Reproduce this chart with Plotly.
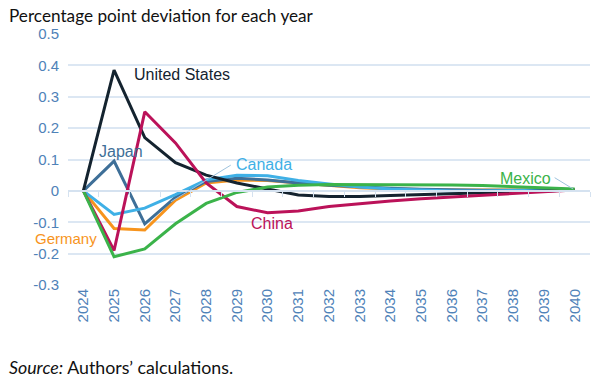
import plotly.graph_objects as go

years = [str(y) for y in range(2024, 2041)]
y_ticks = [0.5, 0.4, 0.3, 0.2, 0.1, 0, -0.1, -0.2, -0.3]
y_tick_labels = ["0.5", "0.4", "0.3", "0.2", "0.1", "0", "-0.1", "-0.2", "-0.3"]

united_states = [0, 0.385, 0.17, 0.09, 0.05, 0.025, 0.006, -0.013, -0.018, -0.018, -0.015, -0.012, -0.008, -0.005, -0.002, 0.0, 0.003]
japan = [0, 0.095, -0.105, -0.02, 0.03, 0.04, 0.035, 0.025, 0.018, 0.012, 0.008, 0.005, 0.003, 0.002, 0.002, 0.002, 0.003]
china = [0, -0.19, 0.252, 0.153, 0.025, -0.05, -0.07, -0.064, -0.05, -0.04, -0.032, -0.025, -0.019, -0.013, -0.007, -0.002, 0.003]
canada = [0, -0.075, -0.055, -0.012, 0.035, 0.05, 0.048, 0.033, 0.022, 0.012, 0.006, 0.002, 0.0, 0.0, 0.001, 0.002, 0.003]
germany = [0, -0.12, -0.125, -0.03, 0.025, 0.035, 0.033, 0.025, 0.016, 0.01, 0.006, 0.004, 0.003, 0.003, 0.003, 0.003, 0.003]
mexico = [0, -0.21, -0.185, -0.105, -0.04, -0.005, 0.012, 0.018, 0.02, 0.02, 0.02, 0.02, 0.019, 0.017, 0.014, 0.01, 0.006]

series = [
    ("Germany", germany, "#f7941d"),
    ("Japan", japan, "#3e6f98"),
    ("Canada", canada, "#3fb0e6"),
    ("United States", united_states, "#14232f"),
    ("China", china, "#bb1259"),
    ("Mexico", mexico, "#3bb34a"),
]

fig = go.Figure()
for name, vals, col in series:
    fig.add_trace(go.Scatter(x=years, y=vals, mode="lines", name=name,
                             line=dict(color=col, width=3)))

tick_font = dict(family="Liberation Sans, Arial", size=15, color="#4f82b8")

fig.update_layout(
    width=602, height=385,
    margin=dict(l=68, r=12, t=34, b=100),
    plot_bgcolor="white", paper_bgcolor="white",
    showlegend=False,
    xaxis=dict(type="category", range=[-0.5, 16.5], showgrid=False, ticks="",
               tickangle=-90, tickfont=tick_font, showline=False, zeroline=False,
               automargin=False),
    xaxis2=dict(overlaying="x", anchor="free", position=0.375, range=[-0.5, 16.5],
                showticklabels=False, showgrid=False, showline=True, linecolor="#d5e2f0",
                linewidth=1.5, ticks="outside", ticklen=5, tickcolor="#d5e2f0",
                tickvals=[i - 0.5 for i in range(18)], zeroline=False),
    yaxis=dict(range=[-0.3, 0.5], tickvals=y_ticks, ticktext=y_tick_labels,
               gridcolor="#dce7f3", gridwidth=1.5, automargin=False,
               tickfont=tick_font, zeroline=False, ticks="", ticklabelstandoff=8),
    font=dict(family="Liberation Sans, Arial"),
)
fig.add_trace(go.Scatter(x=[0], y=[0], xaxis="x2", mode="markers", marker=dict(opacity=0),
                         hoverinfo="skip", showlegend=False))

label_font = "Liberation Sans, Arial"
anns = [
    dict(x=1.6, y=0.37, text="United States", color="#14232f"),
    dict(x=0.45, y=0.125, text="Japan", color="#3e6f98"),
    dict(x=4.9, y=0.085, text="Canada", color="#3fb0e6"),
    dict(x=5.4, y=-0.105, text="China", color="#bb1259"),
    dict(x=13.5, y=0.04, text="Mexico", color="#3bb34a"),
]
for a in anns:
    fig.add_annotation(x=a["x"], y=a["y"], xref="x", yref="y", text=a["text"], showarrow=False,
                       xanchor="left", yanchor="middle",
                       font=dict(family=label_font, size=16, color=a["color"]))
fig.add_annotation(x=-34/522, y=-0.151, xref="paper", yref="y", text="Germany", showarrow=False,
                   xanchor="left", yanchor="middle", borderpad=0,
                   font=dict(family=label_font, size=15, color="#f7941d"))

# leader lines
fig.add_annotation(x=2.85, y=-0.035, ax=4.85, ay=0.085, axref="x", ayref="y", xref="x", yref="y",
                   text="", showarrow=True, arrowhead=0, arrowwidth=1, arrowcolor="#9fc3de")
fig.add_annotation(x=15.95, y=0.006, ax=15.3, ay=0.045, axref="x", ayref="y", xref="x", yref="y",
                   text="", showarrow=True, arrowhead=0, arrowwidth=1, arrowcolor="#9fc3de")

fig.add_annotation(xref="paper", yref="paper", x=-61/522, y=1 + 19/251, xanchor="left", yanchor="middle",
                   text="Percentage point deviation for each year", showarrow=False,
                   font=dict(family="Lato, Carlito, Calibri", size=17.2, color="#111111"))
fig.add_annotation(xref="paper", yref="paper", x=-61/522, y=-82/251, xanchor="left", yanchor="middle",
                   text="<i>Source:</i> Authors\u2019 calculations.", showarrow=False,
                   font=dict(family="Lato, Carlito, Calibri", size=17.8, color="#111111"))

fig.write_html("out.html", config={"displayModeBar": False},
               post_script="document.body.style.margin='0';document.body.style.overflow='hidden';")
